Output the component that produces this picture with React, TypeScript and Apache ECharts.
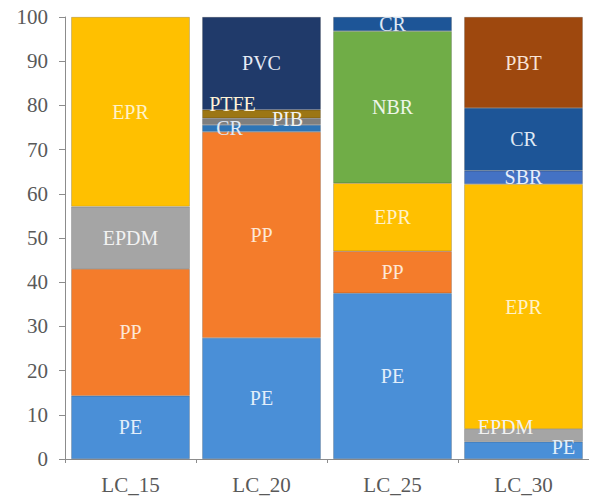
import React, { useEffect, useRef } from "react";
import * as echarts from "echarts";

const categories = ["LC_15", "LC_20", "LC_25", "LC_30"];
const seriesNames = ["PE", "PP", "EPDM", "EPR", "SBR", "NBR", "CR", "PIB", "PTFE", "PVC", "PBT"];

const PE = [14.3, 27.4, 37.5, 3.9];
const PP = [28.7, 46.6, 9.5, null];
const EPDM = [14.1, null, null, 2.9];
const EPR = [42.9, null, 15.4, 55.4];
const SBR = [null, null, null, 3.0];
const NBR = [null, null, 34.4, null];
const CR = [null, 1.6, 3.2, 14.2];
const PIB = [null, 1.5, null, null];
const PTFE = [null, 1.9, null, null];
const PVC = [null, 21.0, null, null];
const PBT = [null, null, null, 20.6];

const values: Record<string, (number | null)[]> = { PE, PP, EPDM, EPR, SBR, NBR, CR, PIB, PTFE, PVC, PBT };

const colors: Record<string, string> = {
  PE: "#4a8fd7",
  PP: "#f47c2b",
  EPDM: "#a5a5a5",
  EPR: "#ffc000",
  SBR: "#4472c4",
  NBR: "#70ad47",
  CR: "#1d5597",
  PIB: "#7f7f7f",
  PTFE: "#9c7614",
  PVC: "#203a6a",
  PBT: "#9e480e",
};
const itemColorOverride: Record<string, string> = { "CR|1": "#2e75b6" };
const labelColors: Record<string, string> = {
  PE: "#e3eefa",
  PP: "#fde8d8",
  EPDM: "#f2f2f2",
  EPR: "#fff2c8",
  SBR: "#e8eefa",
  NBR: "#eef6e8",
  CR: "#dfe9f5",
  PIB: "#f2f2f2",
  PTFE: "#fff3d6",
  PVC: "#e6ebf5",
  PBT: "#f8e3d4",
};
const labelOffsets: Record<string, [number, number]> = {
  "PTFE|1": [-29, -10],
  "PIB|1": [26, -3],
  "CR|1": [-32, 0],
  "EPDM|3": [-18, -8],
  "PE|3": [40, -3],
};

const FONT = "Liberation Serif";

export default function App() {
  const ref = useRef<HTMLDivElement>(null);
  useEffect(() => {
    if (!ref.current) return;
    const chart = echarts.init(ref.current, null, { renderer: "svg" });
    const series = seriesNames.map((name) => ({
      name,
      type: "bar",
      stack: "total",
      barCategoryGap: "9.5%",
      itemStyle: { color: colors[name], borderColor: "rgba(40,40,40,0.35)", borderWidth: 0.6 },
      label: {
        show: true,
        position: "inside",
        formatter: name,
        fontFamily: FONT,
        fontSize: 20,
        color: labelColors[name],
      },
      emphasis: { disabled: true },
      data: values[name].map((v, i) => {
        const key = name + "|" + i;
        const item: any = { value: v === null ? "-" : v };
        if (itemColorOverride[key]) item.itemStyle = { color: itemColorOverride[key] };
        if (labelOffsets[key]) item.label = { offset: labelOffsets[key] };
        return item;
      }),
    }));
    chart.setOption({
      animation: false,
      textStyle: { fontFamily: FONT },
      grid: { left: 65, right: -1, top: 17, bottom: 39, containLabel: false },
      xAxis: {
        type: "category",
        data: categories,
        axisLine: { show: true, lineStyle: { color: "#8c8c8c", width: 1 } },
        axisTick: { show: true, length: 4, lineStyle: { color: "#8c8c8c" } },
        axisLabel: { fontFamily: FONT, fontSize: 21, color: "#595959", margin: 15 },
      },
      yAxis: {
        type: "value",
        min: 0,
        max: 100,
        interval: 10,
        axisLine: { show: true, lineStyle: { color: "#8c8c8c", width: 1 } },
        axisTick: { show: true, length: 6, lineStyle: { color: "#8c8c8c" } },
        splitLine: { show: false },
        axisLabel: { fontFamily: FONT, fontSize: 21, color: "#595959", margin: 17 },
      },
      series,
    });
    return () => chart.dispose();
  }, []);
  return (
    <div
      ref={ref}
      style={{ position: "absolute", left: 0, top: 0, width: 589, height: 498, background: "#fff" }}
    />
  );
}
